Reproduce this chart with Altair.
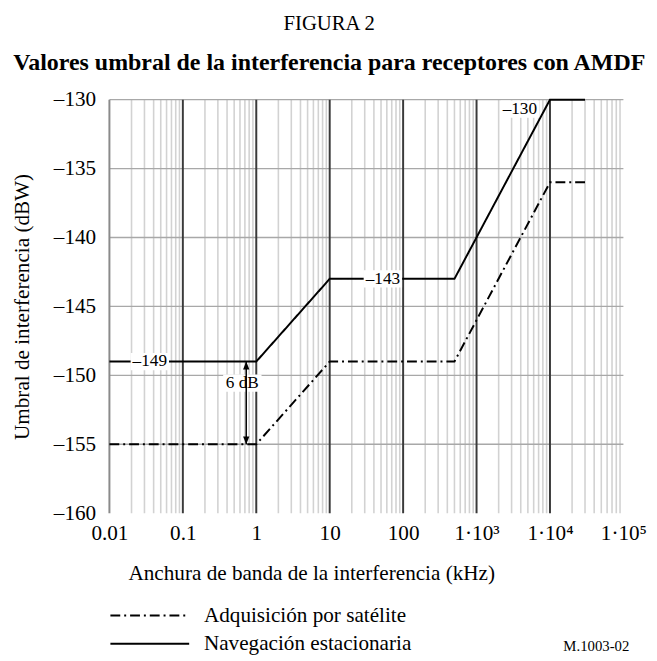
import altair as alt
import pandas as pd

FONT = "Liberation Serif"

# --- data ---
series_names = ["Adquisición por satélite", "Navegación estacionaria"]
x_knots = [0.01, 1, 10, 500, 10000, 30000]
nav_y = [-149, -149, -143, -143, -130, -130]
acq_y = [-155, -155, -149, -149, -136, -136]

x_ticks = [0.01, 0.1, 1, 10, 100, 1000, 10000, 100000]
x_major_dark = [0.1, 1, 10, 100, 1000, 10000]
x_minor_mult = [2, 3, 4, 5, 6, 7, 8, 9]
x_minor_dec = [0.01, 0.1, 1, 10, 100, 1000, 10000]
y_ticks = [-160, -155, -150, -145, -140, -135, -130]
y_grid = [-155, -150, -145, -140, -135, -130]

ann_text = ["–149", "–143", "–130", "6 dB"]
ann_x = [0.0355, 53, 3890, 0.646]
ann_y = [-149, -143, -130.68, -150.57]

arrow_x = [0.73]
arrow_top = [-149]
arrow_bot = [-155]

# --- tables ---
lines_df = pd.DataFrame(
    [{"x": x, "y": y, "serie": series_names[1]} for x, y in zip(x_knots, nav_y)]
    + [{"x": x, "y": y, "serie": series_names[0]} for x, y in zip(x_knots, acq_y)]
)
minor_df = pd.DataFrame({"x": [m * d for d in x_minor_dec for m in x_minor_mult]})
major_df = pd.DataFrame({"x": x_major_dark})
left_df = pd.DataFrame({"x": [x_ticks[0]]})
hgrid_df = pd.DataFrame({"y": y_grid})
ann_df = pd.DataFrame({"x": ann_x, "y": ann_y, "t": ann_text})
arrow_df = pd.DataFrame({"x": arrow_x, "y": arrow_top, "y2": arrow_bot})

xscale = alt.Scale(type="log", domain=[0.01, 100000], nice=False)
yscale = alt.Scale(domain=[-160, -130], nice=False, zero=False)

x_label_expr = (
    "datum.value > 50000 ? '1·10⁵' : datum.value > 5000 ? '1·10⁴' : "
    "datum.value > 500 ? '1·10³' : datum.label"
)

FS = 21.5

xaxis = alt.Axis(
    values=x_ticks, format="~g", labelExpr=x_label_expr, grid=False, ticks=False,
    domain=False, labelFont=FONT, labelFontSize=FS, labelColor="black",
    labelPadding=10, title="Anchura de banda de la interferencia (kHz)",
    titleFont=FONT, titleFontSize=FS, titleFontWeight="normal", titleColor="black",
    titlePadding=19, titleX=205, titleAlign="center",
    labelFlush=False, labelOverlap=False,
)
yaxis = alt.Axis(
    values=y_ticks, labelExpr="datum.value < 0 ? '–' + abs(datum.value) : datum.value",
    grid=False, ticks=False, domain=False, labelFont=FONT, labelFontSize=FS,
    labelColor="black", labelPadding=14, title="Umbral de interferencia (dBW)",
    titleFont=FONT, titleFontSize=FS, titleFontWeight="normal", titleColor="black",
    titlePadding=20,
)

minor = alt.Chart(minor_df).mark_rule(color="#d2d2d2", strokeWidth=1.6).encode(
    x=alt.X("x:Q", scale=xscale, axis=xaxis)
)
hgrid = alt.Chart(hgrid_df).mark_rule(color="#a8a8a8", strokeWidth=1.4).encode(
    y=alt.Y("y:Q", scale=yscale, axis=yaxis)
)
left = alt.Chart(left_df).mark_rule(color="#8a8a8a", strokeWidth=2).encode(
    x=alt.X("x:Q", scale=xscale)
)
major = alt.Chart(major_df).mark_rule(color="#3a3a3a", strokeWidth=2).encode(
    x=alt.X("x:Q", scale=xscale)
)

lines = alt.Chart(lines_df).mark_line(color="black", strokeWidth=2).encode(
    x=alt.X("x:Q", scale=xscale),
    y=alt.Y("y:Q", scale=yscale),
    strokeDash=alt.StrokeDash(
        "serie:N",
        scale=alt.Scale(domain=series_names, range=[[10, 4, 2, 4], [1, 0]]),
        legend=alt.Legend(
            title=None, orient="none", legendX=30, legendY=513,
            symbolType="M-4,0L4,0", symbolSize=400, symbolStrokeWidth=2,
            symbolStrokeColor="black", symbolFillColor="transparent",
            labelFont=FONT, labelFontSize=FS, labelColor="black", labelOffset=44,
            rowPadding=6.5, padding=0, labelLimit=400,
        ),
    ),
    order=alt.Order("x:Q"),
)

box_shape = "M-1,-0.45L1,-0.45L1,0.45L-1,0.45Z"
boxes = alt.Chart(ann_df).mark_point(
    shape=box_shape, filled=True, color="white", opacity=1, size=1520, strokeWidth=0
).encode(x=alt.X("x:Q", scale=xscale), y=alt.Y("y:Q", scale=yscale))
texts = alt.Chart(ann_df).mark_text(
    font=FONT, fontSize=17.5, color="black", align="center", baseline="middle"
).encode(x=alt.X("x:Q", scale=xscale), y=alt.Y("y:Q", scale=yscale), text="t:N")

arrow_rule = alt.Chart(arrow_df).mark_rule(color="black", strokeWidth=1.5).encode(
    x=alt.X("x:Q", scale=xscale), y=alt.Y("y:Q", scale=yscale), y2="y2:Q"
)
head_up = alt.Chart(arrow_df).mark_point(
    shape="M0,0L-0.4,1L0.4,1Z", filled=True, color="black", size=256, opacity=1
).encode(x=alt.X("x:Q", scale=xscale), y=alt.Y("y:Q", scale=yscale))
head_dn = alt.Chart(arrow_df).mark_point(
    shape="M0,0L-0.4,-1L0.4,-1Z", filled=True, color="black", size=256, opacity=1
).encode(x=alt.X("x:Q", scale=xscale), y=alt.Y("y2:Q", scale=yscale))

ref = alt.Chart(pd.DataFrame({"t": ["M.1003-02"]})).mark_text(
    font=FONT, fontSize=15, color="black", align="left", baseline="middle"
).encode(x=alt.value(461), y=alt.value(555), text="t:N")

chart = alt.layer(
    minor, hgrid, left, major, lines, boxes, texts, arrow_rule, head_up, head_dn, ref
).properties(
    width=522, height=420,
    title=alt.TitleParams(
        text="FIGURA 2", subtitle="Valores umbral de la interferencia para receptores con AMDF",
        font=FONT, fontSize=21, fontWeight="normal", color="black",
        subtitleFont=FONT, subtitleFontSize=24.3, subtitleFontWeight="bold",
        subtitleColor="black", subtitlePadding=17, anchor="middle", frame="bounds",
        offset=14,
    ),
    padding={"left": 4, "top": 0, "right": 2, "bottom": 0},
).configure_view(stroke=None)

chart.save("out.html", embed_options={"renderer": "svg", "actions": False})
